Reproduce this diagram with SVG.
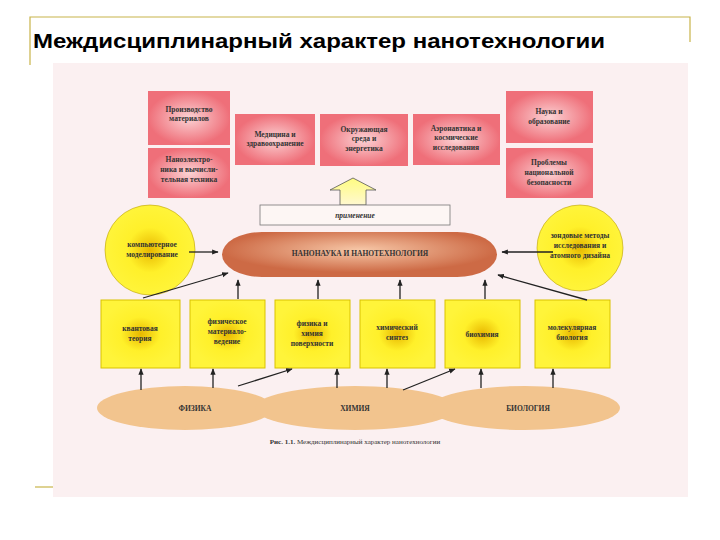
<svg xmlns="http://www.w3.org/2000/svg" width="720" height="540" viewBox="0 0 720 540">
<defs>
<radialGradient id="pk"><stop offset="0" stop-color="#fbd2d4"/><stop offset="1" stop-color="#ef6f79"/></radialGradient>
<radialGradient id="yl"><stop offset="0" stop-color="#e8b800"/><stop offset="0.5" stop-color="#fff02a"/><stop offset="1" stop-color="#fff43a"/></radialGradient>
<radialGradient id="cp" cx="0.5" cy="0.4"><stop offset="0" stop-color="#f7c8a8"/><stop offset="1" stop-color="#cd6a45"/></radialGradient>
<linearGradient id="ar" x1="0" y1="0" x2="0" y2="1"><stop offset="0" stop-color="#fffc80"/><stop offset="1" stop-color="#fff8d0"/></linearGradient>
<marker id="m" viewBox="0 0 10 10" refX="9" refY="5" markerWidth="5" markerHeight="5" orient="auto"><path d="M0,1 L10,5 L0,9 z" fill="#222"/></marker>
</defs>
<style>
.t{font-family:"Liberation Serif",serif;font-weight:bold;font-size:7.5px;fill:#333;text-anchor:middle}
.pb{fill:url(#pk)}
.yb{fill:url(#yl);stroke:#d9c200;stroke-width:1}
.c line{stroke:#222;stroke-width:1.3;marker-end:url(#m)}
.bl{fill:#f2c48e}
</style>
<rect width="720" height="540" fill="#fff"/>
<path d="M30,65 V17 H690 V42" fill="none" stroke="#c8b44a" stroke-width="1.2"/>
<line x1="35" y1="487" x2="55" y2="487" stroke="#c8b44a" stroke-width="1.2"/>
<text x="33" y="48" font-family="Liberation Sans,sans-serif" font-weight="bold" font-size="21" textLength="572" lengthAdjust="spacingAndGlyphs" fill="#000">Междисциплинарный характер нанотехнологии</text>
<rect x="53" y="63" width="635" height="434" fill="#fbf0f1"/>

<g id="n1"><rect class="pb" x="148" y="91" width="82" height="54"/><text class="t" x="189" y="112">Производство</text><text class="t" x="189" y="121">материалов</text></g>
<g id="n2"><rect class="pb" x="148" y="148" width="82" height="50"/><text class="t" x="189" y="162">Наноэлектро-</text><text class="t" x="189" y="172">ника и вычисли-</text><text class="t" x="189" y="182">тельная техника</text></g>
<g id="n3"><rect class="pb" x="235" y="114" width="80" height="51"/><text class="t" x="275" y="137">Медицина и</text><text class="t" x="275" y="146">здравоохранение</text></g>
<g id="n4"><rect class="pb" x="320" y="114" width="88" height="52"/><text class="t" x="364" y="132">Окружающая</text><text class="t" x="364" y="141">среда и</text><text class="t" x="364" y="151">энергетика</text></g>
<g id="n5"><rect class="pb" x="413" y="114" width="87" height="51"/><text class="t" x="456" y="131">Аэронавтика и</text><text class="t" x="456" y="140">космические</text><text class="t" x="456" y="150">исследования</text></g>
<g id="n6"><rect class="pb" x="506" y="91" width="87" height="52"/><text class="t" x="549" y="114">Наука и</text><text class="t" x="549" y="124">образование</text></g>
<g id="n7"><rect class="pb" x="506" y="148" width="87" height="50"/><text class="t" x="549" y="165">Проблемы</text><text class="t" x="549" y="175">национальной</text><text class="t" x="549" y="185">безопасности</text></g>

<g id="arrow"><path d="M340,205 V190 H330 L353,178 L376,190 H366 V205 z" fill="url(#ar)" stroke="#555" stroke-width="0.8"/></g>
<g id="app"><rect x="260" y="205" width="190" height="20" fill="#fdf6f4" stroke="#777" stroke-width="0.8"/><text class="t" x="355" y="218" font-style="italic" font-weight="normal">применение</text></g>

<g id="cl"><circle cx="150" cy="250" r="45" fill="url(#yl)" stroke="#bba000" stroke-width="0.6"/><text class="t" x="152" y="247">компьютерное</text><text class="t" x="152" y="257">моделирование</text></g>
<g id="cr"><circle cx="580" cy="248" r="43" fill="url(#yl)" stroke="#bba000" stroke-width="0.6"/><text class="t" x="580" y="238">зондовые методы</text><text class="t" x="580" y="248">исследования и</text><text class="t" x="580" y="258">атомного дизайна</text></g>
<g id="nano"><rect x="222" y="232" width="275" height="45" rx="40" ry="22.5" fill="url(#cp)"/><text class="t" x="360" y="256" font-size="8">НАНОНАУКА И НАНОТЕХНОЛОГИЯ</text></g>

<g id="y1"><rect class="yb" x="101" y="300" width="79" height="68"/><text class="t" x="140" y="331">квантовая</text><text class="t" x="140" y="341">теория</text></g>
<g id="y2"><rect class="yb" x="190" y="300" width="75" height="68"/><text class="t" x="227" y="324">физическое</text><text class="t" x="227" y="334">материало-</text><text class="t" x="227" y="344">ведение</text></g>
<g id="y3"><rect class="yb" x="275" y="300" width="75" height="68"/><text class="t" x="312" y="326">физика и</text><text class="t" x="312" y="336">химия</text><text class="t" x="312" y="346">поверхности</text></g>
<g id="y4"><rect class="yb" x="360" y="300" width="75" height="68"/><text class="t" x="397" y="330">химический</text><text class="t" x="397" y="340">синтез</text></g>
<g id="y5"><rect class="yb" x="445" y="300" width="75" height="68"/><text class="t" x="482" y="337">биохимия</text></g>
<g id="y6"><rect class="yb" x="535" y="300" width="75" height="68"/><text class="t" x="572" y="330">молекулярная</text><text class="t" x="572" y="340">биология</text></g>

<g id="base">
<ellipse class="bl" cx="185" cy="408" rx="88" ry="22"/>
<ellipse class="bl" cx="355" cy="408" rx="100" ry="22"/>
<ellipse class="bl" cx="525" cy="408" rx="95" ry="22"/>
<text class="t" x="195" y="411">ФИЗИКА</text><text class="t" x="355" y="411">ХИМИЯ</text><text class="t" x="528" y="411">БИОЛОГИЯ</text>
</g>

<g class="c" id="connectors">
<line x1="189" y1="252" x2="218" y2="252"/>
<line x1="553" y1="252" x2="502" y2="252"/>
<line x1="143" y1="298" x2="228" y2="273"/>
<line x1="238" y1="299" x2="238" y2="280"/>
<line x1="318" y1="299" x2="318" y2="280"/>
<line x1="400" y1="299" x2="400" y2="280"/>
<line x1="485" y1="299" x2="485" y2="280"/>
<line x1="587" y1="300" x2="498" y2="275"/>
<line x1="141" y1="390" x2="141" y2="369"/>
<line x1="213" y1="388" x2="213" y2="369"/>
<line x1="238" y1="386" x2="292" y2="369"/>
<line x1="337" y1="388" x2="337" y2="369"/>
<line x1="387" y1="388" x2="387" y2="369"/>
<line x1="403" y1="390" x2="455" y2="369"/>
<line x1="481" y1="388" x2="481" y2="369"/>
<line x1="553" y1="388" x2="553" y2="369"/>
</g>
<text x="355" y="444" font-family="Liberation Serif,serif" font-size="7" fill="#333" text-anchor="middle"><tspan font-weight="bold">Рис. 1.1.</tspan> Междисциплинарный характер нанотехнологии</text>
</svg>
